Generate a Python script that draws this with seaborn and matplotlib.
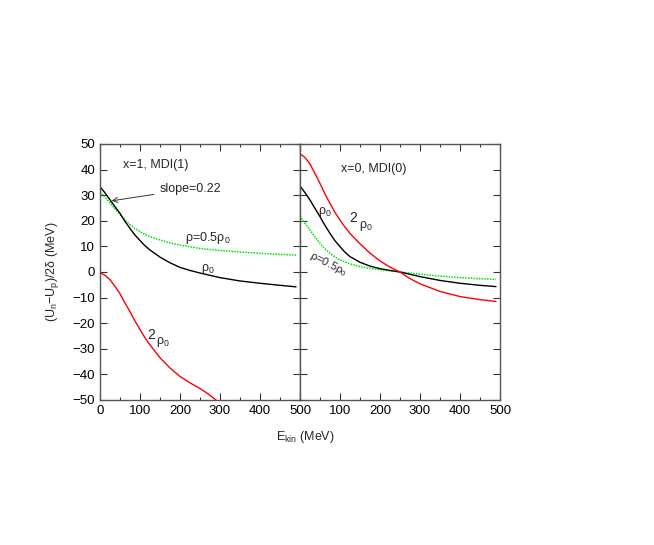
import numpy as np
import pandas as pd
import matplotlib
matplotlib.use("Agg")
import matplotlib.pyplot as plt
import seaborn as sns
from matplotlib.ticker import MultipleLocator

# ---------------- data ----------------
# Left panel: x=1, MDI(1)
e_l_black = [0, 12, 25, 37, 50, 62, 75, 87, 100, 112, 125, 150, 175, 200, 225, 250, 300, 350, 400, 450, 490]
u_l_black = [33.3, 31.0, 28.2, 25.6, 22.9, 19.9, 17.0, 14.5, 12.3, 10.3, 8.6, 5.8, 3.6, 1.8, 0.6, -0.4, -2.2, -3.5, -4.4, -5.2, -5.8]
e_l_green = [0, 12, 25, 37, 50, 62, 75, 87, 100, 112, 125, 150, 175, 200, 250, 300, 350, 400, 450, 490]
u_l_green = [31.4, 29.3, 27.0, 24.7, 22.5, 20.4, 18.5, 17.0, 15.8, 14.7, 13.8, 12.5, 11.4, 10.5, 9.2, 8.4, 7.8, 7.3, 6.9, 6.6]
e_l_red = [0, 12, 25, 37, 50, 62, 75, 87, 100, 112, 125, 150, 175, 200, 225, 250, 270, 290]
u_l_red = [-0.3, -1.2, -3.0, -5.5, -8.5, -12.0, -15.5, -19.0, -22.5, -25.6, -28.5, -33.5, -37.5, -40.8, -43.3, -45.5, -47.6, -50.0]

# Right panel: x=0, MDI(0)
e_r_black = [0, 12, 25, 37, 50, 62, 75, 87, 100, 112, 125, 150, 175, 200, 225, 250, 300, 350, 400, 450, 490]
u_r_black = [33.6, 31.1, 28.1, 25.0, 21.6, 18.3, 15.1, 12.3, 9.9, 7.8, 6.0, 3.8, 2.3, 1.3, 0.6, 0.0, -1.8, -3.3, -4.4, -5.2, -5.7]
e_r_green = [0, 12, 25, 37, 50, 62, 75, 87, 100, 125, 150, 175, 200, 250, 300, 350, 400, 450, 490]
u_r_green = [21.9, 19.1, 16.4, 13.7, 11.2, 9.1, 7.3, 5.9, 4.7, 3.2, 2.1, 1.4, 0.9, 0.0, -0.8, -1.6, -2.2, -2.6, -2.9]
e_r_red = [0, 12, 25, 37, 50, 62, 75, 87, 100, 112, 125, 150, 175, 200, 225, 250, 275, 300, 350, 400, 450, 490]
u_r_red = [46.2, 44.8, 42.2, 38.6, 34.6, 30.6, 26.8, 23.4, 20.3, 17.6, 15.1, 11.0, 7.4, 4.3, 1.9, 0.0, -2.6, -4.6, -7.6, -9.6, -10.8, -11.5]

x_ticks = [0, 100, 200, 300, 400, 500]
y_ticks = [-50, -40, -30, -20, -10, 0, 10, 20, 30, 40, 50]

# ---------------- style ----------------
sns.set_theme(style="ticks")
plt.rcParams["font.family"] = ["Liberation Sans", "DejaVu Sans"]
plt.rcParams["mathtext.default"] = "regular"

RED = "#ff0000"
GREEN = "#00e000"
BLACK = "#000000"

fig = plt.figure(figsize=(6.54, 5.45), dpi=100)
W, H = 654, 545
axL = fig.add_axes([100 / W, 1 - 400 / H, 200 / W, 256 / H])
axR = fig.add_axes([300 / W, 1 - 400 / H, 200 / W, 256 / H])

def draw(ax, e, u, color, dotted=False):
    df = pd.DataFrame({"E": e, "U": u})
    kw = dict(linestyle=(0, (1, 0.8))) if dotted else {}
    sns.lineplot(data=df, x="E", y="U", ax=ax, color=color, lw=1.0 if not dotted else 1.1,
                 sort=False, estimator=None, **kw)

draw(axL, e_l_green, u_l_green, GREEN, dotted=True)
draw(axL, e_l_black, u_l_black, BLACK)
draw(axL, e_l_red, u_l_red, RED)
draw(axR, e_r_green, u_r_green, GREEN, dotted=True)
draw(axR, e_r_black, u_r_black, BLACK)
draw(axR, e_r_red, u_r_red, RED)

for ax in (axL, axR):
    ax.set_xlim(0, 500)
    ax.set_ylim(-50, 50)
    ax.set_xticks(x_ticks)
    ax.set_yticks(y_ticks)
    ax.xaxis.set_minor_locator(MultipleLocator(50))
    ax.tick_params(which="both", direction="in", top=True, right=True,
                   labelsize=9.5, colors="#333333", labelcolor="black")
    ax.tick_params(which="major", length=5, width=0.8)
    ax.tick_params(which="minor", length=2.5, width=0.8)
    for s in ax.spines.values():
        s.set_color("#555555")
        s.set_linewidth(1.0)
    ax.set_xlabel("")
    ax.set_ylabel("")

axR.set_yticklabels([])
axR.set_xticklabels(["", "100", "200", "300", "400", "500"])

# axis labels
axL.set_ylabel(r"(U$_n$$-$U$_p$)/2$\delta$ (MeV)", fontsize=9, labelpad=8)
fig.text(305 / W, 1 - 437 / H, r"E$_{kin}$ (MeV)", fontsize=9, ha="center", va="center")

# annotations left
axL.text(57, 41.8, "x=1, MDI(1)", fontsize=9, ha="left", va="center")
axL.annotate("slope=0.22", xy=(29, 27.8), xytext=(150, 32.5), fontsize=9,
             ha="left", va="center",
             arrowprops=dict(arrowstyle="->", color="#333333", lw=0.7,
                             shrinkA=2, shrinkB=0))
axL.text(212, 13.3, r"$\rho$=0.5$\rho_0$", fontsize=9, ha="left", va="center")
axL.text(253, 1.3, r"$\rho_0$", fontsize=9, ha="left", va="center")
axL.text(118, -24.6, "2", fontsize=10, ha="left", va="center")
axL.text(141, -27.5, r"$\rho_0$", fontsize=9, ha="left", va="center")

# annotations right
axR.text(102, 40.2, "x=0, MDI(0)", fontsize=9, ha="left", va="center")
axR.text(45, 23.5, r"$\rho_0$", fontsize=9, ha="left", va="center")
axR.text(124, 21.0, "2", fontsize=10, ha="left", va="center")
axR.text(147, 18.0, r"$\rho_0$", fontsize=9, ha="left", va="center")
axR.text(72, 3.0, r"$\rho$=0.5$\rho_0$", fontsize=8, ha="center", va="center", rotation=-27)

fig.savefig("out.png", dpi=100)
